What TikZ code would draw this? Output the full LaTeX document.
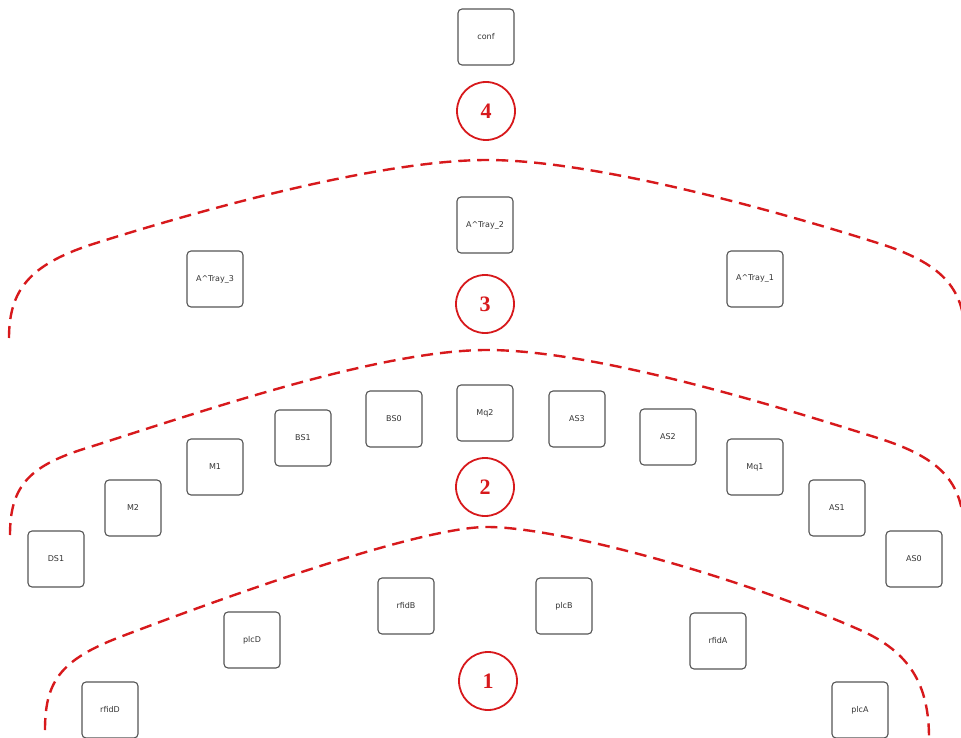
\documentclass[tikz,border=0pt]{standalone}
\usepackage{fontspec}
\newfontfamily\boxfont{DejaVu Sans}
\newfontfamily\numfont{Liberation Serif}
\definecolor{boxgray}{HTML}{555555}
\definecolor{txtgray}{HTML}{333333}
\definecolor{lvlred}{HTML}{D7191C}
\begin{document}
\begin{tikzpicture}[x=1pt,y=-1pt,
  unit/.style={draw=boxgray, line width=1.1pt, rounded corners=4pt, minimum width=56pt, minimum height=56pt, inner sep=0pt, font=\boxfont\fontsize{8}{9}\selectfont, text=txtgray},
  level/.style={circle, draw=lvlred, line width=1.8pt, minimum size=58pt, inner sep=0pt, font=\numfont\fontsize{22}{22}\selectfont\bfseries, text=lvlred},
  layer/.style={draw=lvlred, line width=2.4pt, dash pattern=on 12pt off 7pt}]
\useasboundingbox (0,0) rectangle (961,738);
\begin{scope}
\clip (0,0) rectangle (961,738);
% level 4
\node[unit] (conf) at (486,37) {conf};
\node[level] (l4) at (486,111) {4};
% level 3
\node[unit] (at2) at (485,225) {A\^{}Tray\_2};
\node[unit] (at3) at (215,279) {A\^{}Tray\_3};
\node[unit] (at1) at (755,279) {A\^{}Tray\_1};
\node[level] (l3) at (485,304) {3};
% level 2
\node[unit] (bs0) at (394,419) {BS0};
\node[unit] (mq2) at (485,413) {Mq2};
\node[unit] (as3) at (577,419) {AS3};
\node[unit] (bs1) at (303,438) {BS1};
\node[unit] (as2) at (668,437) {AS2};
\node[unit] (m1) at (215,467) {M1};
\node[unit] (mq1) at (755,467) {Mq1};
\node[unit] (m2) at (133,508) {M2};
\node[unit] (as1) at (837,508) {AS1};
\node[unit] (ds1) at (56,559) {DS1};
\node[unit] (as0) at (914,559) {AS0};
\node[level] (l2) at (485,487) {2};
% level 1
\node[unit] (rfidb) at (406,606) {rfidB};
\node[unit] (plcb) at (564,606) {plcB};
\node[unit] (plcd) at (252,640) {plcD};
\node[unit] (rfida) at (718,641) {rfidA};
\node[unit] (rfidd) at (110,710) {rfidD};
\node[unit] (plca) at (860,710) {plcA};
\node[level] (l1) at (488,681) {1};
% layer boundaries
\draw[layer] (9,338) .. controls (9,290) and (30,265) .. (90,245)
  .. controls (200,210) and (380,160) .. (487,160)
  .. controls (594,160) and (774,210) .. (884,245)
  .. controls (944,265) and (965,290) .. (965,338);
\draw[layer] (10,535) .. controls (10,485) and (30,465) .. (90,447)
  .. controls (200,412) and (380,350) .. (487,350)
  .. controls (594,350) and (774,405) .. (884,440)
  .. controls (944,460) and (964,485) .. (964,535);
\draw[layer] (45,730) .. controls (45,682) and (60,660) .. (120,637)
  .. controls (230,595) and (420,527) .. (487,527)
  .. controls (560,527) and (740,577) .. (860,630)
  .. controls (910,652) and (929,685) .. (929,738);
\end{scope}
\end{tikzpicture}
\end{document}
